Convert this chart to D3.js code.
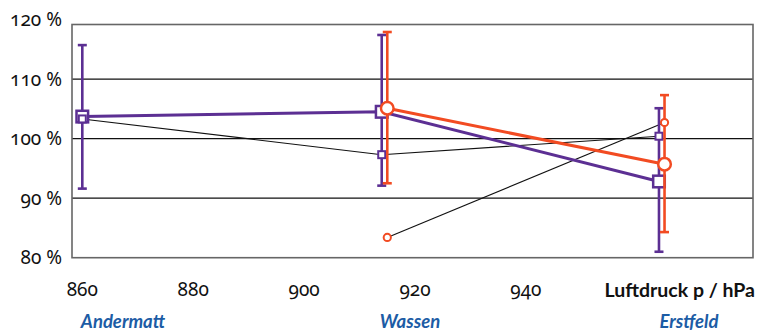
<!DOCTYPE html>
<html><head><meta charset="utf-8">
<script src="https://cdn.jsdelivr.net/npm/d3@7"></script>
<style>
body{margin:0;background:#fff;}
svg{display:block;}
.num{font-family:"Noto Sans",sans-serif;font-variant-numeric:oldstyle-nums;font-feature-settings:"onum" 1;}
</style></head>
<body><svg id="c" width="758" height="333"></svg>
<script>
// Data
const yTicks = [80, 90, 100, 110, 120];
const xTicks = [860, 880, 900, 920, 940];
const stations = ["Andermatt", "Wassen", "Erstfeld"];

const purplePressure = [860, 914, 964];
const purpleValue = [103.7, 104.5, 92.8];
const purpleLow = [91.6, 92.1, 81.0];
const purpleHigh = [115.7, 117.4, 105.1];

const orangePressure = [915, 965];
const orangeValue = [105.1, 95.7];
const orangeLow = [92.5, 84.3];
const orangeHigh = [117.9, 107.3];

const purpleSmallPressure = [860, 914, 964];
const purpleSmallValue = [103.3, 97.3, 100.4];

const orangeSmallPressure = [915, 965];
const orangeSmallValue = [83.4, 102.7];

const PURPLE = "#5c2f93", ORANGE = "#f24b22", BLUE = "#1c5ca5";

const svg = d3.select("#c");
const pL = 72, pR = 753, pT = 24.5, pB = 257.7;
const x = d3.scaleLinear().domain([860, 920]).range([82.3, 415]);
const y = d3.scaleLinear().domain([80, 120]).range([257.7, 19.5]);

// gridlines
svg.append("g").selectAll("line").data([90, 100, 110]).join("line")
  .attr("x1", pL).attr("x2", pR).attr("y1", d => y(d)).attr("y2", d => y(d))
  .attr("stroke", "#111").attr("stroke-width", 1.2);
// frame
svg.append("rect").attr("x", pL).attr("y", pT).attr("width", pR - pL).attr("height", pB - pT)
  .attr("fill", "none").attr("stroke", "#666").attr("stroke-width", 1.6);

// y labels
svg.append("g").selectAll("text").data(yTicks).join("text").attr("class", "num")
  .attr("x", 62).attr("y", d => y(d)).attr("dy", "0.35em").attr("text-anchor", "end")
  .attr("font-size", 19).attr("fill", "#111").text(d => d + " %");
// x labels
svg.append("g").selectAll("text").data(xTicks).join("text").attr("class", "num")
  .attr("x", d => x(d)).attr("y", 296).attr("text-anchor", "middle")
  .attr("font-size", 19).attr("fill", "#111").text(d => d);
svg.append("text").attr("x", 755).attr("y", 297).attr("text-anchor", "end")
  .attr("font-family", "Lato, 'Open Sans', sans-serif").attr("font-weight", "bold")
  .attr("font-size", 19.5).attr("fill", "#111").text("Luftdruck p / hPa");
// station labels
const stationX = [123, 410, 689];
svg.append("g").selectAll("text").data(stations).join("text")
  .attr("x", (d, i) => stationX[i]).attr("y", 328).attr("text-anchor", "middle")
  .attr("font-family", "Lato, 'Open Sans', sans-serif").attr("font-weight", "bold").attr("font-style", "italic")
  .attr("font-size", 18.5).attr("fill", BLUE).text(d => d);

const line = d3.line().x(d => x(d[0])).y(d => y(d[1]));

// thin black lines
const ps = purpleSmallPressure.map((p, i) => [p, purpleSmallValue[i]]);
const os = orangeSmallPressure.map((p, i) => [p, orangeSmallValue[i]]);
svg.append("path").attr("d", line(ps)).attr("fill", "none").attr("stroke", "#111").attr("stroke-width", 1.1);
svg.append("path").attr("d", line(os)).attr("fill", "none").attr("stroke", "#111").attr("stroke-width", 1.1);

function errorBars(press, lo, hi, color) {
  const g = svg.append("g").attr("stroke", color).attr("stroke-width", 2.6);
  press.forEach((p, i) => {
    g.append("line").attr("x1", x(p)).attr("x2", x(p)).attr("y1", y(lo[i])).attr("y2", y(hi[i]));
    [lo[i], hi[i]].forEach(v => g.append("line").attr("x1", x(p) - 4.5).attr("x2", x(p) + 4.5).attr("y1", y(v)).attr("y2", y(v)));
  });
}

const pm = purplePressure.map((p, i) => [p, purpleValue[i]]);
const om = orangePressure.map((p, i) => [p, orangeValue[i]]);

errorBars(purplePressure, purpleLow, purpleHigh, PURPLE);
svg.append("path").attr("d", line(pm)).attr("fill", "none").attr("stroke", PURPLE).attr("stroke-width", 3);
svg.append("g").selectAll("rect").data(pm).join("rect")
  .attr("x", d => x(d[0]) - 5.8).attr("y", d => y(d[1]) - 5.8).attr("width", 11.6).attr("height", 11.6)
  .attr("fill", "#fff").attr("stroke", PURPLE).attr("stroke-width", 2.5);
svg.append("g").selectAll("rect").data(ps).join("rect")
  .attr("x", d => x(d[0]) - 3.5).attr("y", d => y(d[1]) - 3.5).attr("width", 7).attr("height", 7)
  .attr("fill", "#fff").attr("stroke", PURPLE).attr("stroke-width", 2);

errorBars(orangePressure, orangeLow, orangeHigh, ORANGE);
svg.append("path").attr("d", line(om)).attr("fill", "none").attr("stroke", ORANGE).attr("stroke-width", 3);
svg.append("g").selectAll("circle").data(om).join("circle")
  .attr("cx", d => x(d[0])).attr("cy", d => y(d[1])).attr("r", 6.3)
  .attr("fill", "#fff").attr("stroke", ORANGE).attr("stroke-width", 2.5);
svg.append("g").selectAll("circle").data(os).join("circle")
  .attr("cx", d => x(d[0])).attr("cy", d => y(d[1])).attr("r", 3.6)
  .attr("fill", "#fff").attr("stroke", ORANGE).attr("stroke-width", 2);
</script></body></html>
